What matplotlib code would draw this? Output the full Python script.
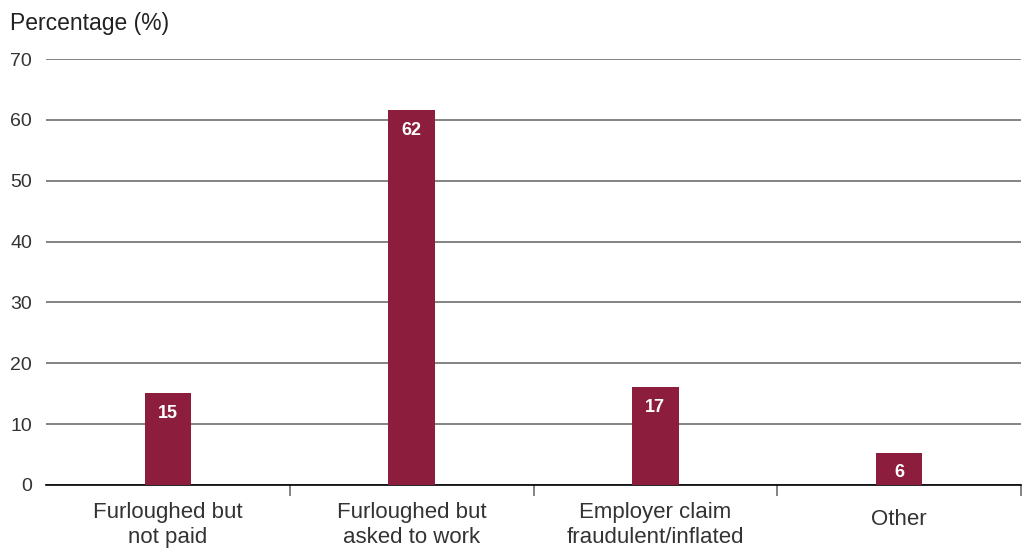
import matplotlib.pyplot as plt
from matplotlib.transforms import ScaledTranslation

# data
categories = ["Furloughed but\nnot paid", "Furloughed but\nasked to work",
              "Employer claim\nfraudulent/inflated", "Other"]
heights = [15.1, 61.6, 16.1, 5.3]
labels = ["15", "62", "17", "6"]
bar_color = "#8c1d3c"

plt.rcParams["font.family"] = ["Liberation Sans", "DejaVu Sans"]

fig = plt.figure(figsize=(10.24, 5.49), dpi=100)
ax = fig.add_axes([0.045, 0.1166, 0.952, 0.7759])

x = list(range(len(categories)))
bars = ax.bar(x, heights, width=0.19, color=bar_color, zorder=3)

for b, lab in zip(bars, labels):
    ax.annotate(lab, (b.get_x() + b.get_width() / 2, b.get_height()),
                xytext=(0, -20), textcoords="offset pixels",
                ha="center", va="center", color="white", fontsize=13, fontweight="bold",
                zorder=4)

ax.set_xlim(-0.5, 3.5)
ax.set_ylim(0, 70)
ax.set_yticks(range(0, 71, 10))
ax.yaxis.grid(True, color="#6e6e6e", linewidth=1.2, zorder=0)
ax.tick_params(axis="y", length=0, labelsize=14, pad=10, labelcolor="#333333")

ax.set_xticks(x)
ax.set_xticklabels(categories, fontsize=16, color="#333333", linespacing=1.3)
ax.tick_params(axis="x", which="major", length=0, pad=12)
ax.set_xticks([0.5, 1.5, 2.5, 3.5], minor=True)
ax.tick_params(axis="x", which="minor", length=8, width=1.3, color="#7a7a7a")

# single-line label sits a little lower in the original
lbl = ax.get_xticklabels()[3]
lbl.set_transform(lbl.get_transform() + ScaledTranslation(0, -5 / 72, fig.dpi_scale_trans))

for s in ["top", "right", "left"]:
    ax.spines[s].set_visible(False)
ax.spines["bottom"].set_color("black")
ax.spines["bottom"].set_linewidth(1.2)

fig.text(0.01, 0.958, "Percentage (%)", fontsize=16.5, color="#222222", va="center", ha="left")

fig.savefig("out.png", dpi=100)
